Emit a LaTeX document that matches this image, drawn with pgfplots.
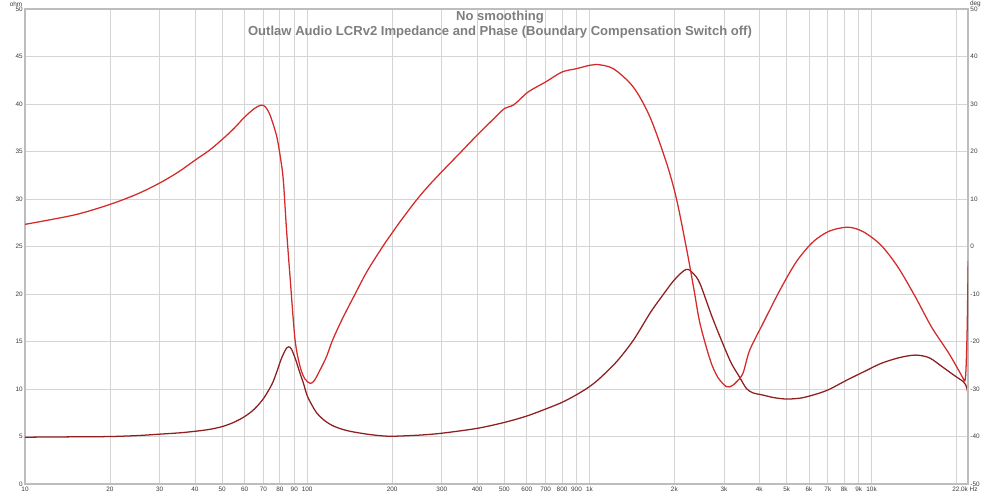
\documentclass[border=0pt]{standalone}
\usepackage{pgfplots}
\pgfplotsset{compat=1.18}
\usepackage{fontspec}
\setmainfont{Liberation Sans}
\definecolor{impc}{HTML}{8E1F1F}
\definecolor{phc}{HTML}{D42A2A}
\definecolor{gridc}{HTML}{D4D4D4}
\definecolor{framec}{HTML}{BDBDBD}
\definecolor{tickc}{HTML}{3A3A3A}
\definecolor{titc}{HTML}{7E7E7E}
\pgfplotstableread{
f z
10 4.93
15 4.97
20 5.0
25 5.1
30 5.25
35 5.38
40 5.55
45 5.75
50 6.05
55 6.5
60 7.1
65 7.9
70 9.0
75 10.5
78 11.8
81 13.2
84 14.2
86 14.45
88 14.2
91 13.1
94 11.8
97 10.6
100 9.3
104 8.3
108 7.5
115 6.7
123 6.15
132 5.8
142 5.55
162 5.26
180 5.1
200 5.03
250 5.15
300 5.35
400 5.86
500 6.49
600 7.16
700 7.9
800 8.6
900 9.4
1000 10.25
1090 11.15
1250 12.9
1432 15.15
1640 18.0
1780 19.5
2000 21.5
2200 22.6
2330 22.2
2466 21.1
2746 17.3
3146 13.05
3400 11.3
3600 10.07
3800 9.6
4120 9.37
4500 9.1
5000 8.95
5600 9.05
6200 9.37
7000 9.9
8180 10.95
9500 11.9
10800 12.7
12500 13.3
14300 13.58
16000 13.3
17800 12.35
19500 11.5
21100 10.8
21500 10.5
21800 10.0
22000 9.2
}\impdata
\pgfplotstableread{
f p
10 4.7
15 6.7
20 8.9
25 11.1
30 13.4
35 15.75
40 18.2
45 20.3
50 22.6
55 24.9
60 27.3
65 29.1
68.5 29.8
71 29.5
74 27.6
78 23.2
80.5 18.5
82.3 14
84.5 3.5
87.1 -7
90.6 -19.7
94.4 -25.3
98 -27.8
102.5 -28.8
106 -28.2
111 -26
117 -23.2
123 -19.7
133 -15.3
146 -10.6
163 -5.2
187 0.4
200 2.9
213 5.2
243 9.7
270 12.9
300 15.8
350 19.9
400 23.5
450 26.5
500 29.1
540 29.9
607 32.6
700 34.7
800 36.8
900 37.5
1000 38.2
1060 38.4
1215 37.5
1432 33.6
1640 27.3
1880 17.5
2040 9.8
2225 -1.4
2350 -9.2
2466 -16.2
2680 -23.9
2850 -27.5
3060 -29.5
3200 -29.3
3320 -28.5
3500 -26.7
3700 -21.8
4120 -16.2
4730 -9.2
5410 -3.2
6200 1.0
7100 3.3
8260 4.1
9370 3.1
10800 0.3
12400 -4.3
14300 -10.6
16300 -16.9
18800 -22.5
21000 -27.5
21400 -28.3
21600 -26
21800 -18
21950 -7
22000 -3
}\phdata
\begin{document}
\begin{tikzpicture}
\path[use as bounding box] (0,0) rectangle (750pt,372.75pt);
\begin{axis}[
  at={(18.75pt,9.75pt)}, anchor=south west,
  scale only axis, width=707.4pt, height=356pt,
  xmode=log, xmin=10, xmax=22000,
  major tick length=0pt, minor tick length=0pt,
  tick label style={font=\fontsize{4.8}{5}\selectfont, text=tickc},
  /pgf/number format/assume math mode=true,
  ymin=0, ymax=50, ytick={0,5,...,50},
  xtick={10,20,30,40,50,60,70,80,90,100,200,300,400,500,600,700,800,900,1000,2000,3000,4000,5000,6000,7000,8000,9000,10000,20000},
  xticklabels={10,20,30,40,50,60,70,80,90,100,200,300,400,500,600,700,800,900,1k,2k,3k,4k,5k,6k,7k,8k,9k,10k,},
  ymajorgrids, xmajorgrids,
  grid style={draw=gridc, line width=0.6pt},
  axis line style={draw=framec, line width=1.4pt},
  x tick label style={anchor=north, inner sep=1pt, yshift=-1.2pt},
  y tick label style={anchor=east, inner sep=1.5pt},
]
\addplot[impc, line width=0.95pt, smooth, tension=0.5] table[x=f,y=z] {\impdata};
\end{axis}
\begin{axis}[
  at={(18.75pt,9.75pt)}, anchor=south west,
  scale only axis, width=707.4pt, height=356pt,
  xmode=log, xmin=10, xmax=22000,
  major tick length=0pt, minor tick length=0pt,
  tick label style={font=\fontsize{4.8}{5}\selectfont, text=tickc},
  /pgf/number format/assume math mode=true,
  ymin=-50, ymax=50, ytick={-50,-40,...,50},
  axis y line*=right, axis x line=none,
  axis line style={draw=framec, line width=1.4pt},
  y tick label style={anchor=west, inner sep=1.5pt},
]
\addplot[phc, line width=0.95pt, smooth, tension=0.5] table[x=f,y=p] {\phdata};
\end{axis}
\node[font=\fontsize{4.8}{5}\selectfont, text=tickc] at (12pt,369.8pt) {ohm};
\node[font=\fontsize{4.8}{5}\selectfont, text=tickc] at (731.5pt,369.8pt) {deg};
\node[font=\fontsize{4.8}{5}\selectfont, text=tickc, anchor=north west, inner sep=1pt] at (713pt,8.5pt) {22.0k Hz};
\node[font=\fontsize{9.8}{11}\selectfont\bfseries, text=titc] at (375pt,360pt) {No smoothing};
\node[font=\fontsize{9.8}{11}\selectfont\bfseries, text=titc] at (375pt,348.5pt) {Outlaw Audio LCRv2 Impedance and Phase (Boundary Compensation Switch off)};
\end{tikzpicture}
\end{document}
